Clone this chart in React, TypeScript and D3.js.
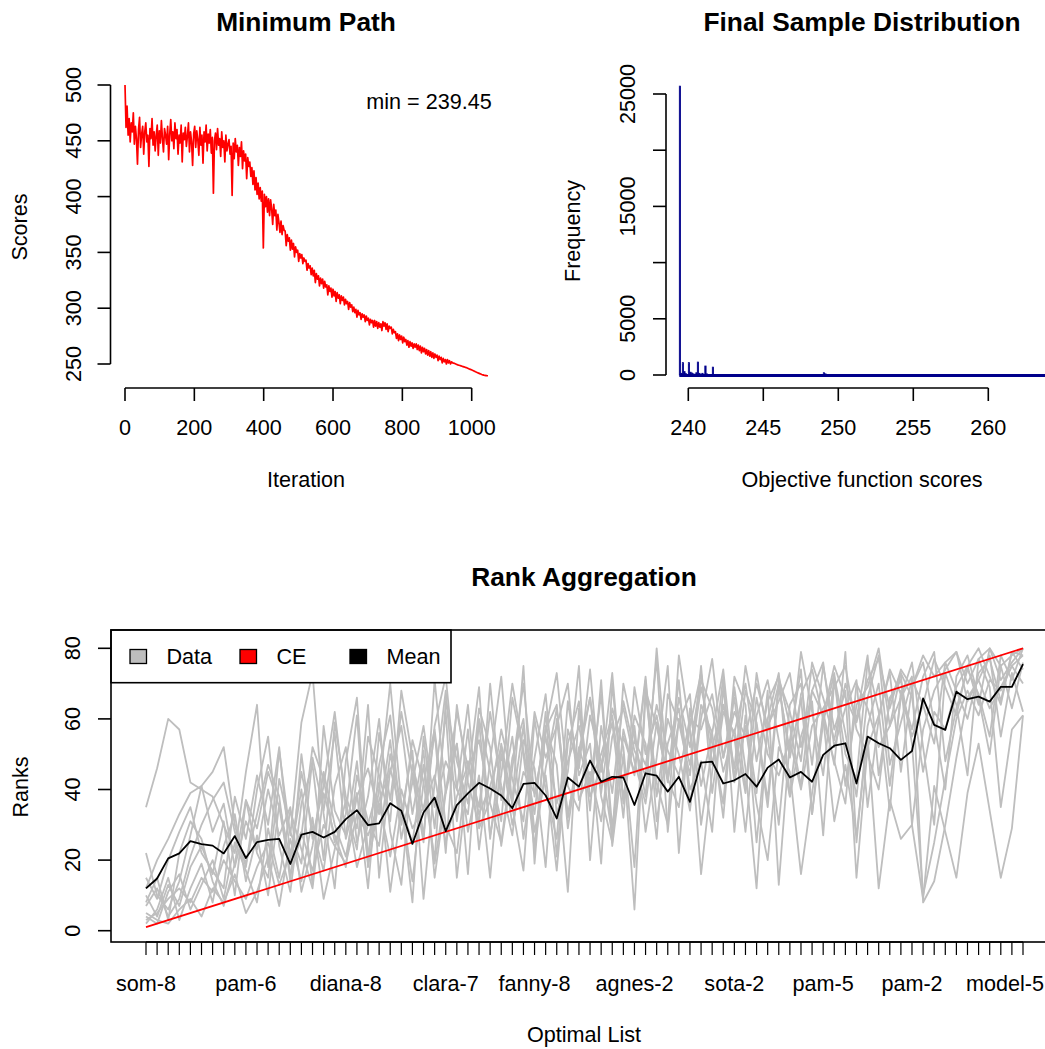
import React from 'react';
import * as d3 from 'd3';

const FONT = '"Liberation Sans", Arial, Helvetica, sans-serif';

// ---------- Panel 1: Minimum Path ----------
const PATH_STEP = 3;
const pathScores = [
  500, 462, 481, 455, 470, 449, 466, 458, 475, 447,
  463, 452, 429, 460, 471, 444, 456, 463, 438, 458,
  466, 449, 455, 427, 461, 452, 470, 446, 458, 441,
  455, 464, 437, 459, 448, 468, 452, 440, 461, 455,
  447, 463, 433, 456, 469, 450, 458, 443, 466, 452,
  460, 438, 455, 448, 464, 431, 457, 451, 462, 445,
  454, 466, 440, 458, 449, 428, 456, 463, 444, 459,
  451, 437, 462, 446, 455, 430, 458, 449, 464, 441,
  456, 448, 460, 439, 453, 403, 450, 457, 442, 461,
  446, 452, 436, 458, 444, 450, 431, 455, 441, 447,
  451, 438, 445, 401, 448, 434, 452, 440, 446, 428,
  444, 436, 449, 425, 441, 432, 438, 416, 435, 427,
  431, 418, 426, 411, 423, 406, 417, 402, 412, 398,
  408, 396, 405, 354, 402, 391, 400, 386, 398, 383,
  397, 389, 375, 393, 383, 388, 370, 384, 377, 368,
  378, 366, 374, 370, 369, 356, 366, 360, 363, 352,
  361, 353, 358, 346, 355, 350, 352, 342, 349, 345,
  348, 340, 345, 342, 343, 334, 340, 336, 338, 330,
  336, 329, 334, 323, 331, 326, 329, 320, 327, 322,
  326, 318, 324, 319, 321, 312, 320, 315, 318, 310,
  317, 311, 315, 306, 314, 309, 312, 304, 311, 307,
  310, 303, 308, 304, 306, 299, 305, 301, 303, 297,
  301, 296, 299, 292, 298, 294, 296, 290, 295, 292,
  294, 288, 293, 289, 291, 285, 290, 287, 289, 283,
  289, 284, 288, 282, 287, 283, 286, 280, 288, 284,
  287, 281, 286, 279, 284, 282, 283, 277, 281, 278,
  279, 273, 277, 271, 276, 272, 275, 269, 274, 270,
  272, 267, 271, 265, 270, 266, 269, 264, 268, 265,
  268, 263, 267, 262, 266, 260, 265, 261, 264, 259,
  263, 258, 262, 257, 261, 256, 260, 255, 259, 256,
  258, 253, 257, 254, 256, 251, 255, 252, 254, 250,
  254, 251, 253, 250, 252, 251, 250.8, 250.4, 250.0, 249.6,
  249.2, 248.9, 248.6, 248.3, 248.0, 247.7, 247.4, 247.1, 246.8, 246.4,
  246.0, 245.6, 245.2, 244.8, 244.4, 244.0, 243.5, 243.0, 242.6, 242.2,
  241.8, 241.4, 241.0, 240.6, 240.3, 240.0, 239.8, 239.6, 239.5, 239.45,
];
const minScoreLabel = 'min = 239.45';
const pathYTicks = [250, 300, 350, 400, 450, 500];
const pathXTicks = [0, 200, 400, 600, 800, 1000];

// ---------- Panel 2: Final Sample Distribution ----------
const HIST_BIN = 0.1;
const histStarts = [239.4, 239.5, 239.6, 239.7, 239.8, 240.0, 240.1, 240.2, 240.3, 240.5, 240.6, 240.7, 240.9, 241.1, 241.2, 241.6, 242.0, 249.0, 249.1];
const histCounts = [25700, 150, 1100, 300, 120, 1100, 250, 180, 100, 200, 1150, 150, 150, 800, 100, 700, 30, 200, 100];
const histRange = [239.4, 270];
const freqTicks = [0, 5000, 10000, 15000, 20000, 25000];
const freqLabelTicks = [0, 5000, 15000, 25000];
const scoreTicks = [240, 245, 250, 255, 260];

// ---------- Panel 3: Rank Aggregation ----------
const rankTicks = [0, 20, 40, 60, 80];
const listLabelIdx = [0, 9, 18, 27, 35, 44, 53, 61, 69, 78];
const listLabels = ['som-8', 'pam-6', 'diana-8', 'clara-7', 'fanny-8', 'agnes-2', 'sota-2', 'pam-5', 'pam-2', 'model-5'];
const N_ITEMS = 80;
const ceRanks = [1, 80];
const meanRanks = [
  12.0, 14.8, 20.5, 21.9, 25.4, 24.5, 24.1, 21.9, 26.8, 20.6,
  25.1, 25.7, 26.0, 18.9, 27.2, 28.0, 26.4, 28.0, 31.6, 34.1,
  29.9, 30.4, 36.1, 34.0, 24.6, 33.5, 37.7, 28.2, 35.6, 38.9,
  41.9, 40.3, 38.3, 34.7, 41.6, 41.9, 38.3, 31.8, 43.4, 40.8,
  48.2, 42.2, 43.6, 43.4, 35.6, 44.6, 43.9, 39.4, 43.6, 36.5,
  47.6, 47.9, 41.7, 42.6, 44.4, 40.8, 46.2, 48.5, 43.4, 45.0,
  42.2, 49.8, 52.4, 53.1, 41.7, 55.0, 53.1, 51.7, 48.4, 50.9,
  65.8, 58.3, 56.9, 67.7, 65.6, 66.3, 64.9, 69.1, 69.1, 75.5,
];
const listA = [3,5,9,12,8,15,11,20,14,9,18,25,13,22,28,17,30,24,19,33,27,36,21,40,29,35,44,25,38,47,33,41,52,30,45,39,55,36,48,58,42,50,61,38,54,47,64,51,44,60,57,67,49,62,55,70,58,65,73,52,68,61,75,66,59,71,77,63,74,69,78,72,76,79,70,77,80,75,78,80];
const listB = [35,46,60,57,42,40,38,30,22,45,64,18,51,27,59,73,33,12,48,66,21,40,70,36,8,55,29,62,15,44,69,26,53,37,75,19,58,47,11,63,34,71,24,50,6,67,42,30,78,57,16,45,72,28,61,39,68,13,54,74,33,62,47,79,25,58,70,41,66,76,52,30,73,64,44,77,69,35,57,61];
const listC = [22,10,6,14,27,41,45,52,30,18,40,55,24,11,36,47,20,59,38,29,64,15,46,33,51,9,42,68,31,57,23,48,72,35,17,60,40,26,65,44,53,19,70,37,58,28,49,75,22,63,41,56,32,69,46,12,60,73,38,55,65,27,71,50,43,76,62,34,68,57,72,79,48,63,74,67,55,78,71,80];
const listD = [15,9,20,28,35,22,17,12,38,26,44,30,52,21,40,13,58,34,27,48,19,56,37,62,44,25,71,39,53,16,60,45,31,66,50,23,57,73,41,34,61,48,27,70,55,38,80,43,59,67,30,52,64,46,75,58,35,69,51,79,62,44,72,56,38,66,78,47,59,71,64,53,76,68,60,73,77,65,79,74];
const listE = [10,4,13,7,18,24,16,31,10,37,22,15,43,28,19,49,34,56,26,39,12,47,61,30,54,42,20,65,48,36,59,27,44,70,51,33,62,21,57,46,74,39,63,52,18,68,58,43,71,35,60,77,49,66,40,73,55,30,64,70,47,75,57,68,15,52,61,73,45,69,76,59,40,72,78,66,50,75,63,76];
const listF = [5,3,2,6,9,4,12,8,16,5,11,21,7,26,14,32,9,23,37,18,30,42,11,35,25,47,19,40,53,28,44,15,50,36,58,24,46,63,32,52,41,67,29,55,45,72,38,60,50,34,64,56,74,43,68,59,37,71,62,48,76,66,54,70,60,78,44,65,73,30,57,68,74,79,65,71,78,55,73,62];
const listG = [7,12,4,9,21,30,37,42,28,19,33,47,38,14,50,26,41,62,35,23,55,44,31,68,49,27,58,72,40,33,63,52,24,46,70,38,57,64,29,51,66,45,73,36,61,53,26,67,59,44,75,39,62,56,70,48,65,72,58,41,68,76,52,63,71,35,60,74,67,55,64,77,69,61,75,80,72,64,79,78];
const listH = [4,2,11,16,6,13,20,9,25,17,8,29,15,34,23,12,39,27,18,44,31,24,50,36,14,42,57,30,22,48,35,62,41,27,54,46,18,60,33,49,66,38,25,57,44,71,31,53,63,40,48,28,69,42,58,36,20,52,45,16,39,60,31,47,27,55,12,37,26,30,9,41,28,15,39,53,34,15,29,61];
const listI = [2,6,15,3,12,19,8,24,33,14,27,10,36,20,45,29,17,41,52,25,38,60,28,13,47,34,56,22,64,42,30,70,37,55,26,49,67,33,45,75,20,58,39,65,51,44,77,28,60,47,69,53,36,72,64,25,57,70,49,66,33,59,73,41,64,69,80,58,73,66,45,62,57,69,75,64,80,71,76,80];
const listJ = [12,20,26,33,39,41,28,36,18,31,23,40,27,35,11,24,45,30,21,38,46,33,54,26,42,58,35,48,40,64,29,37,57,43,31,62,49,58,70,37,45,31,55,63,48,36,59,42,66,52,71,63,45,57,39,66,50,44,54,40,58,63,69,75,57,50,40,66,71,53,10,25,43,60,68,61,71,68,75,70];
const listK = [8,15,3,22,31,26,14,7,19,37,29,45,35,16,27,52,43,25,33,61,18,37,45,58,33,51,15,39,62,46,54,36,25,49,60,28,44,17,53,65,38,46,59,32,69,50,61,43,35,58,73,47,64,55,28,61,71,54,38,67,74,60,48,36,70,63,52,58,66,72,8,14,30,49,66,71,63,69,75,78];
const dataLists = [listA, listB, listC, listD, listE, listF, listG, listH, listI, listJ, listK];

const legendItems = [
  { label: 'Data', color: '#BEBEBE' },
  { label: 'CE', color: '#FF0000' },
  { label: 'Mean', color: '#000000' },
];

export default function App() {
  const fs = 21.6;
  const tfs = 26.3;
  const axisW = 1.6;

  // Panel 1 scales
  const px = d3.scaleLinear().domain([0, 1000]).range([125, 471.7]);
  const py = d3.scaleLinear().domain([250, 500]).range([364, 85]);
  const pathLine = d3.line<number>().x((_, i) => px(i * PATH_STEP)).y((d) => py(d));

  // Panel 2 scales
  const hx = d3.scaleLinear().domain([240, 260]).range([688.3, 988.3]);
  const hy = d3.scaleLinear().domain([0, 25000]).range([375, 94]);

  // Panel 3 scales
  const rx = d3.scaleLinear().domain([1, N_ITEMS]).range([146, 1023]);
  const ry = d3.scaleLinear().domain([0, 80]).range([930.7, 648.3]);
  const rankLine = d3.line<number>().x((_, i) => rx(i + 1)).y((d) => ry(d));
  const ceLine = d3.line<number>().x((d) => rx(d)).y((d) => ry(d));
  const boxL = 111, boxR = 1058, boxT = 630, boxB = 942;
  const itemIdx = d3.range(N_ITEMS);

  const tickLen = 13;

  return (
    <svg width={1045} height={1049} style={{ position: 'absolute', left: 0, top: 0, background: '#fff' }} fontFamily={FONT}>
      <rect x={0} y={0} width={1045} height={1049} fill="#fff" />

      {/* ---------------- Panel 1 ---------------- */}
      <text x={306} y={31} textAnchor="middle" fontSize={tfs} fontWeight="bold">Minimum Path</text>
      <path d={pathLine(pathScores) || ''} fill="none" stroke="#FF0000" strokeWidth={1.7} strokeLinejoin="round" />
      <text x={429} y={109} textAnchor="middle" fontSize={fs}>{minScoreLabel}</text>
      {/* y axis */}
      <line x1={110.5} x2={110.5} y1={py(500)} y2={py(250)} stroke="#000" strokeWidth={axisW} />
      {pathYTicks.map((t) => (
        <g key={'py' + t}>
          <line x1={110.5 - tickLen} x2={110.5} y1={py(t)} y2={py(t)} stroke="#000" strokeWidth={axisW} />
          <text transform={`translate(${81},${py(t)}) rotate(-90)`} textAnchor="middle" fontSize={fs}>{t}</text>
        </g>
      ))}
      {/* x axis */}
      <line x1={px(0)} x2={px(1000)} y1={388} y2={388} stroke="#000" strokeWidth={axisW} />
      {pathXTicks.map((t) => (
        <g key={'px' + t}>
          <line x1={px(t)} x2={px(t)} y1={388} y2={388 + tickLen} stroke="#000" strokeWidth={axisW} />
          <text x={px(t)} y={435} textAnchor="middle" fontSize={fs}>{t}</text>
        </g>
      ))}
      <text x={306} y={487} textAnchor="middle" fontSize={fs}>Iteration</text>
      <text transform={`translate(27,227) rotate(-90)`} textAnchor="middle" fontSize={fs}>Scores</text>

      {/* ---------------- Panel 2 ---------------- */}
      <text x={862} y={31} textAnchor="middle" fontSize={tfs} fontWeight="bold">Final Sample Distribution</text>
      <line x1={hx(histRange[0])} x2={hx(histRange[1])} y1={hy(0) + 0.5} y2={hy(0) + 0.5} stroke="#00008B" strokeWidth={3} />
      {histStarts.map((s, i) => {
        const x0 = hx(s);
        const x1 = hx(s + HIST_BIN);
        const yTop = hy(histCounts[i]);
        return (
          <rect key={'h' + i} x={x0} y={yTop} width={Math.max(1, x1 - x0 - 0.2)} height={hy(0) - yTop}
            fill="#00008B" stroke="#00008B" strokeWidth={0.8} />
        );
      })}
      <line x1={666} x2={666} y1={hy(25000)} y2={hy(0)} stroke="#000" strokeWidth={axisW} />
      {freqTicks.map((t) => (
        <line key={'ft' + t} x1={666 - tickLen} x2={666} y1={hy(t)} y2={hy(t)} stroke="#000" strokeWidth={axisW} />
      ))}
      {freqLabelTicks.map((t) => (
        <text key={'fl' + t} transform={`translate(${635},${hy(t)}) rotate(-90)`} textAnchor="middle" fontSize={fs}>{t}</text>
      ))}
      <line x1={hx(240)} x2={hx(260)} y1={388} y2={388} stroke="#000" strokeWidth={axisW} />
      {scoreTicks.map((t) => (
        <g key={'sx' + t}>
          <line x1={hx(t)} x2={hx(t)} y1={388} y2={388 + tickLen} stroke="#000" strokeWidth={axisW} />
          <text x={hx(t)} y={435} textAnchor="middle" fontSize={fs}>{t}</text>
        </g>
      ))}
      <text x={862} y={487} textAnchor="middle" fontSize={fs}>Objective function scores</text>
      <text transform={`translate(580,231) rotate(-90)`} textAnchor="middle" fontSize={fs}>Frequency</text>

      {/* ---------------- Panel 3 ---------------- */}
      <text x={584} y={586} textAnchor="middle" fontSize={tfs} fontWeight="bold">Rank Aggregation</text>
      {dataLists.map((lst, k) => (
        <path key={'dl' + k} d={rankLine(lst) || ''} fill="none" stroke="#BEBEBE" strokeWidth={1.8} strokeLinejoin="round" />
      ))}
      <path d={ceLine(ceRanks) || ''} fill="none" stroke="#FF0000" strokeWidth={1.8} />
      <path d={rankLine(meanRanks) || ''} fill="none" stroke="#000" strokeWidth={1.8} strokeLinejoin="round" />
      {/* legend */}
      <rect x={boxL} y={boxT} width={451 - boxL} height={682.7 - boxT} fill="#fff" stroke="#000" strokeWidth={axisW} />
      {legendItems.map((it, i) => {
        const sx = [130, 240, 350][i];
        return (
          <g key={'lg' + i}>
            <rect x={sx} y={649.5} width={16.5} height={14} fill={it.color} stroke="#000" strokeWidth={1.3} />
            <text x={sx + 36.5} y={663.5} fontSize={fs}>{it.label}</text>
          </g>
        );
      })}
      {/* box */}
      <rect x={boxL} y={boxT} width={boxR - boxL} height={boxB - boxT} fill="none" stroke="#000" strokeWidth={axisW} />
      {rankTicks.map((t) => (
        <g key={'ry' + t}>
          <line x1={boxL - tickLen} x2={boxL} y1={ry(t)} y2={ry(t)} stroke="#000" strokeWidth={axisW} />
          <text transform={`translate(${80},${ry(t)}) rotate(-90)`} textAnchor="middle" fontSize={fs}>{t}</text>
        </g>
      ))}
      <line x1={rx(1)} x2={rx(N_ITEMS)} y1={boxB} y2={boxB} stroke="#000" strokeWidth={axisW} />
      {itemIdx.map((i) => (
        <line key={'rt' + i} x1={rx(i + 1)} x2={rx(i + 1)} y1={boxB} y2={boxB + tickLen} stroke="#000" strokeWidth={1.2} />
      ))}
      {listLabelIdx.map((idx, j) => {
        const last = j === listLabelIdx.length - 1;
        return (
          <text key={'rl' + j} x={last ? 1044 : rx(idx + 1)} y={991} textAnchor={last ? 'end' : 'middle'} fontSize={fs}>{listLabels[j]}</text>
        );
      })}
      <text x={584} y={1042} textAnchor="middle" fontSize={fs}>Optimal List</text>
      <text transform={`translate(28,787) rotate(-90)`} textAnchor="middle" fontSize={fs}>Ranks</text>
    </svg>
  );
}
